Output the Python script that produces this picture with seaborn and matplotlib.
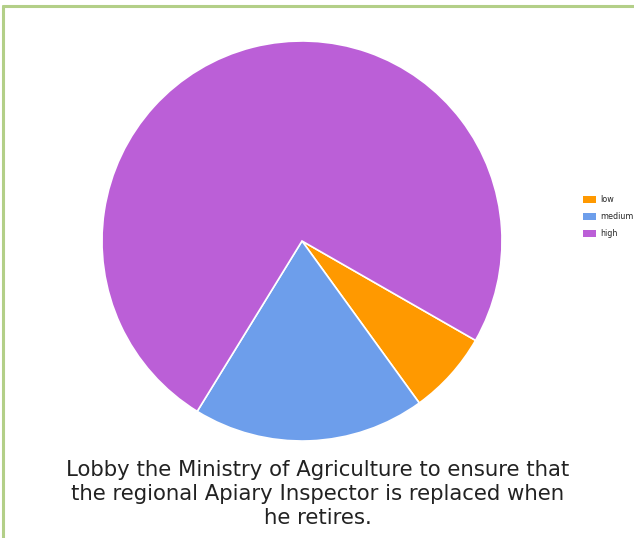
import matplotlib
matplotlib.use("Agg")
import matplotlib.pyplot as plt
import seaborn as sns
from matplotlib.patches import Patch
from matplotlib.lines import Line2D

categories = ["low", "medium", "high"]
values = [6.75, 18.75, 74.5]
colors = ["#ff9900", "#6d9eeb", "#bb5fd7"]
caption = ("Lobby the Ministry of Agriculture to ensure that\n"
           "the regional Apiary Inspector is replaced when\n"
           "he retires.")

sns.set_style("white")
palette = sns.color_palette(colors)

W, H = 634, 538
fig = plt.figure(figsize=(W / 100, H / 100), dpi=100)
fig.patch.set_facecolor("white")

# green border (top and left)
fig.add_artist(Line2D([3 / W, 1], [1 - 6 / H, 1 - 6 / H], color="#b3cf88", lw=2.2, transform=fig.transFigure))
fig.add_artist(Line2D([3 / W, 3 / W], [0, 1 - 6 / H], color="#b3cf88", lw=2.2, transform=fig.transFigure))

cx, cy, r = 302, 241, 200
ax = fig.add_axes([(cx - r) / W, (H - cy - r) / H, 2 * r / W, 2 * r / H])
ax.pie(values, colors=palette, startangle=-29.8, counterclock=False,
       wedgeprops=dict(edgecolor="white", linewidth=1.2), radius=1)
ax.set_xlim(-1, 1)
ax.set_ylim(-1, 1)
ax.set_aspect("equal")
ax.axis("off")

handles = [Patch(facecolor=c, edgecolor="none") for c in palette]
fig.legend(handles, categories, loc="upper left", bbox_to_anchor=(580 / W, 1 - 192 / H),
           frameon=False, fontsize=5.8, handlelength=1.6, handleheight=0.8,
           labelspacing=1.0, handletextpad=0.5, borderaxespad=0)

fig.text(318 / W, 1 - 494 / H, caption, ha="center", va="center", fontsize=15.3,
         color="#222222", family="DejaVu Sans", linespacing=1.22)

fig.savefig("out.png", dpi=100)
